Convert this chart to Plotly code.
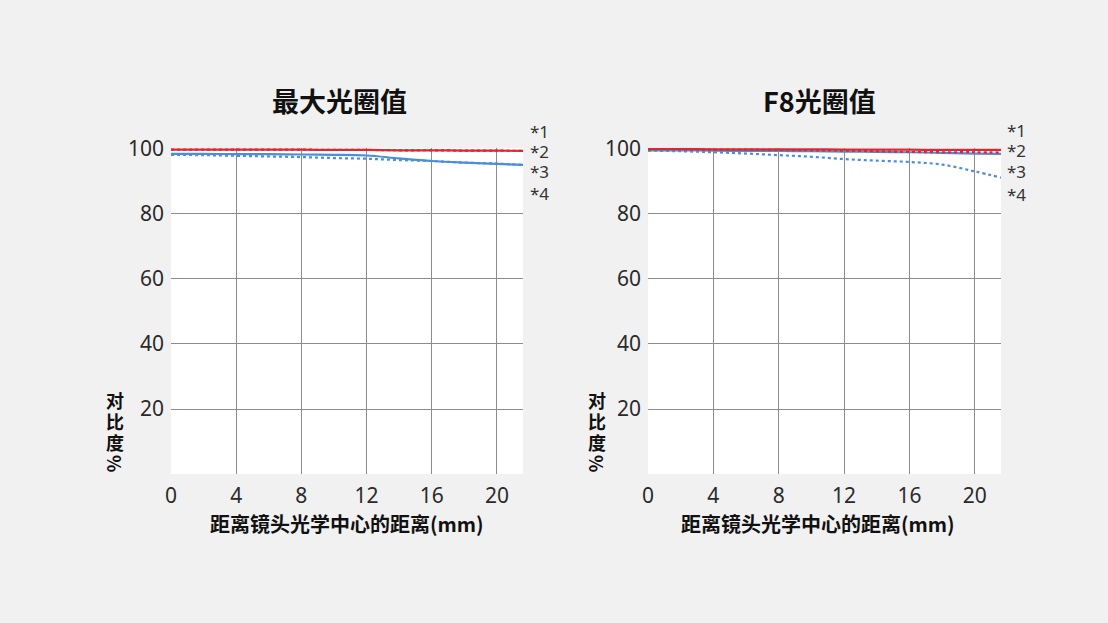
import plotly.graph_objects as go

# distance from optical centre (mm)
dist = [0, 2, 4, 6, 8, 10, 12, 14, 16, 18, 20, 21.6]

# max aperture
max_red_solid = [99.8, 99.8, 99.8, 99.8, 99.8, 99.7, 99.7, 99.6, 99.6, 99.5, 99.5, 99.4]
max_red_dot = [99.8, 99.8, 99.8, 99.8, 99.8, 99.7, 99.7, 99.6, 99.6, 99.5, 99.5, 99.4]
max_blue_solid = [98.5, 98.5, 98.4, 98.4, 98.3, 98.2, 98.0, 97.1, 96.3, 95.8, 95.4, 95.1]
max_blue_dot = [98.2, 98.1, 97.9, 97.7, 97.5, 97.2, 97.0, 96.6, 96.3, 95.8, 95.5, 95.1]

# F8
f8_red_solid = [100.0, 100.0, 99.9, 99.9, 99.9, 99.9, 99.8, 99.8, 99.8, 99.7, 99.7, 99.7]
f8_red_dot = [99.9, 99.9, 99.8, 99.8, 99.7, 99.6, 99.5, 99.3, 99.1, 99.0, 99.0, 98.9]
f8_blue_solid = [99.6, 99.6, 99.5, 99.4, 99.4, 99.3, 99.2, 99.1, 99.0, 98.8, 98.6, 98.5]
f8_blue_dot = [99.5, 99.3, 99.0, 98.6, 98.1, 97.6, 96.9, 96.4, 96.0, 95.2, 93.1, 91.2]

titles = ["最大光圈值", "F8光圈值"]
xtitle = "距离镜头光学中心的距离(mm)"
ytitle = ["对", "比", "度"]
marks = ["*1", "*2", "*3", "*4"]
xticks = [0, 4, 8, 12, 16, 20]
yticks = [20, 40, 60, 80, 100]

RED = "#e3262d"
BLUE = "#4a8fd9"
W, H = 1108, 623
FONT = "Noto Sans, Noto Sans CJK SC, sans-serif"
CJK = "Noto Sans CJK SC, sans-serif"

fig = go.Figure()

panels = [
    ("x", "y", [max_blue_dot, max_blue_solid, max_red_dot, max_red_solid]),
    ("x2", "y2", [f8_blue_dot, f8_blue_solid, f8_red_dot, f8_red_solid]),
]
styles = [(BLUE, "dot"), (BLUE, "solid"), (RED, "dot"), (RED, "solid")]

for xa, ya, series in panels:
    for vals, (col, dash) in zip(series, styles):
        fig.add_trace(go.Scatter(
            x=dist, y=vals, xaxis=xa, yaxis=ya, mode="lines",
            line=dict(color=col, width=2.2, dash=dash, shape="spline"),
            showlegend=False, hoverinfo="skip",
        ))

def px(x):
    return x / W

def py(y):
    return 1 - y / H

axis_common = dict(
    range=[0, 21.6], tickvals=xticks, showgrid=True, gridcolor="#8c8c8c",
    gridwidth=1, zeroline=False, showline=False, ticks="",
    tickfont=dict(family=FONT, size=21, color="#2a2a2a"),
    fixedrange=True, automargin=False,
)
yaxis_common = dict(
    range=[0, 100.3], tickvals=yticks, showgrid=True, gridcolor="#8c8c8c",
    gridwidth=1, zeroline=False, showline=False, ticks="",
    tickfont=dict(family=FONT, size=21, color="#2a2a2a"),
    fixedrange=True, ticklabelstandoff=6, automargin=False,
)

fig.update_layout(
    width=W, height=H, autosize=False,
    margin=dict(l=0, r=0, t=0, b=0, pad=0),
    paper_bgcolor="#f1f1f1", plot_bgcolor="white",
    xaxis=dict(domain=[px(171), px(523)], anchor="y", ticklabelstandoff=7, **axis_common),
    yaxis=dict(domain=[py(474), py(148)], anchor="x", **yaxis_common),
    xaxis2=dict(domain=[px(648), px(1001)], anchor="y2", ticklabelstandoff=7, **axis_common),
    yaxis2=dict(domain=[py(474), py(148)], anchor="x2", **yaxis_common),
)

anns = []
centres = [347, 818]
title_x = [339, 819]
y_title_x = [115, 597]
y_title_y = [400, 421, 442]
mark_x = [537, 1014]
mark_y = [[131, 152, 172, 193], [130, 151, 171, 194]]
for i in range(2):
    anns.append(dict(x=px(title_x[i]), y=py(100), text="<b>" + titles[i] + "</b>",
                     font=dict(family=CJK, size=27, color="#111111")))
    anns.append(dict(x=px(centres[i]), y=py(523), text="<b>" + xtitle + "</b>",
                     font=dict(family=CJK, size=20, color="#111111")))
    for ch, yy in zip(ytitle, y_title_y):
        anns.append(dict(x=px(y_title_x[i]), y=py(yy), text="<b>" + ch + "</b>", height=20,
                         font=dict(family=CJK, size=18, color="#111111")))
    anns.append(dict(x=px(y_title_x[i]), y=py(463), text="<b>%</b>", textangle=90,
                     font=dict(family=CJK, size=18, color="#111111")))
    for m, yy in zip(marks, mark_y[i]):
        anns.append(dict(x=px(mark_x[i] - 9), y=py(yy), text=m, xanchor="left",
                         font=dict(family=FONT, size=17, color="#333333")))

for a in anns:
    a.setdefault("xanchor", "center")
    a.update(xref="paper", yref="paper", yanchor="middle", showarrow=False)
fig.update_layout(annotations=anns)

fig.write_html("out.html", config={"displayModeBar": False},
               post_script="document.body.style.margin='0';document.body.style.overflow='hidden';")
